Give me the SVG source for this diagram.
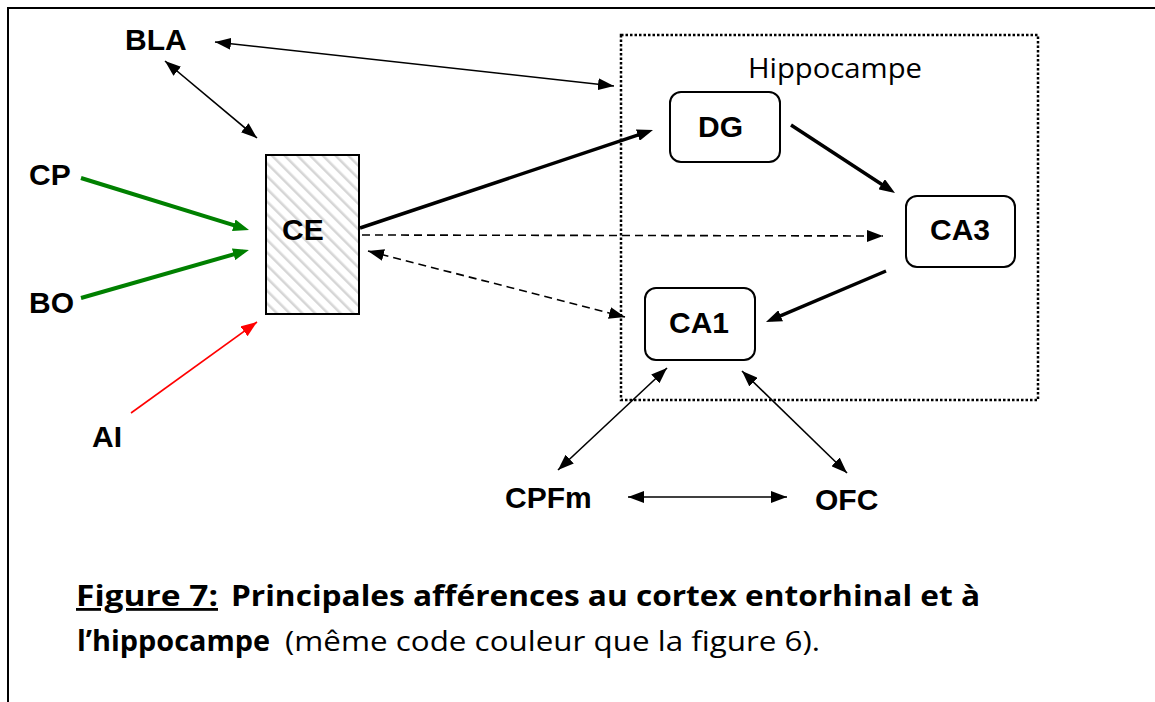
<svg xmlns="http://www.w3.org/2000/svg" width="1155" height="702" viewBox="0 0 1155 702">
<style>
.lbl{font-family:"Liberation Sans",Arial,sans-serif;font-weight:bold;font-size:30px;fill:#000}
.cap{font-family:"Open Sans","DejaVu Sans",sans-serif;font-size:28px;fill:#000}
.b{font-weight:bold}
.box{fill:#fff;stroke:#000;stroke-width:2}
.thin{stroke:#000;stroke-width:1.6;fill:none}
.thick{stroke:#000;stroke-width:3.5;fill:none}
.dash{stroke:#000;stroke-width:1.6;fill:none;stroke-dasharray:8 5}
.green{stroke:#008000;stroke-width:4;fill:none}
.red{stroke:#ff0000;stroke-width:1.6;fill:none}
</style>
<defs>
<pattern id="hatch" patternUnits="userSpaceOnUse" width="9" height="9" patternTransform="rotate(-45)">
<rect width="9" height="9" fill="#fff"/>
<line x1="0" y1="0" x2="0" y2="9" stroke="#d6d6d6" stroke-width="5"/>
</pattern>
<marker id="ak" markerUnits="userSpaceOnUse" markerWidth="16" markerHeight="12" refX="16" refY="6" orient="auto-start-reverse" viewBox="0 0 16 12"><path d="M0,0 L16,6 L0,12 z" fill="#000"/></marker>
<marker id="akt" markerUnits="userSpaceOnUse" markerWidth="16" markerHeight="12" refX="10" refY="6" orient="auto" viewBox="0 0 16 12"><path d="M0,0 L16,6 L0,12 z" fill="#000"/></marker>
<marker id="ag" markerUnits="userSpaceOnUse" markerWidth="16" markerHeight="12" refX="10" refY="6" orient="auto" viewBox="0 0 16 12"><path d="M0,0 L16,6 L0,12 z" fill="#008000"/></marker>
<marker id="ar" markerUnits="userSpaceOnUse" markerWidth="16" markerHeight="12" refX="16" refY="6" orient="auto" viewBox="0 0 16 12"><path d="M0,0 L16,6 L0,12 z" fill="#ff0000"/></marker>
</defs>
<rect width="1155" height="702" fill="#fff"/>
<!-- frame -->
<path d="M8,702 L8,8 L1155,8" fill="none" stroke="#000" stroke-width="2"/>

<g id="hippocampe">
<rect x="621" y="35" width="417" height="365" fill="none" stroke="#000" stroke-width="2.5" stroke-dasharray="2.5 2"/>
<text x="748" y="78" class="cap" textLength="174" lengthAdjust="spacingAndGlyphs">Hippocampe</text>
</g>

<g id="connectors">
<line class="thin" x1="215" y1="42" x2="614" y2="86" marker-start="url(#ak)" marker-end="url(#ak)"/>
<line class="thin" x1="165" y1="61" x2="257" y2="138" marker-start="url(#ak)" marker-end="url(#ak)"/>
<line class="green" x1="81" y1="178" x2="243.3" y2="228.2" marker-end="url(#ag)"/>
<line class="green" x1="81" y1="298" x2="243.2" y2="251.6" marker-end="url(#ag)"/>
<line class="red" x1="131" y1="413" x2="257" y2="322" marker-end="url(#ar)"/>
<line class="thick" x1="360" y1="228" x2="647.3" y2="131.9" marker-end="url(#akt)"/>
<line class="dash" x1="362" y1="235" x2="883" y2="236" marker-end="url(#ak)"/>
<line class="dash" x1="368" y1="251" x2="625" y2="317" marker-start="url(#ak)" marker-end="url(#ak)"/>
<line class="thick" x1="791" y1="125" x2="890" y2="189.7" marker-end="url(#akt)"/>
<line class="thick" x1="886" y1="271" x2="771.5" y2="319.7" marker-end="url(#akt)"/>
<line class="thin" x1="667" y1="368" x2="558" y2="470" marker-start="url(#ak)" marker-end="url(#ak)"/>
<line class="thin" x1="742" y1="371" x2="847" y2="473" marker-start="url(#ak)" marker-end="url(#ak)"/>
<line class="thin" x1="628" y1="497" x2="787" y2="497" marker-start="url(#ak)" marker-end="url(#ak)"/>
</g>

<g id="BLA"><text class="lbl" x="125" y="50">BLA</text></g>
<g id="CP"><text class="lbl" x="29" y="185">CP</text></g>
<g id="BO"><text class="lbl" x="29" y="313">BO</text></g>
<g id="AI"><text class="lbl" x="92" y="447">AI</text></g>
<g id="CE">
<rect x="266" y="155" width="93" height="159" fill="url(#hatch)" stroke="#000" stroke-width="2"/>
<text class="lbl" x="282" y="240">CE</text>
</g>
<g id="DG">
<rect class="box" x="670" y="92" width="110" height="70" rx="11"/>
<text class="lbl" x="698" y="137">DG</text>
</g>
<g id="CA3">
<rect class="box" x="906" y="196" width="109" height="71" rx="11"/>
<text class="lbl" x="930" y="240">CA3</text>
</g>
<g id="CA1">
<rect class="box" x="645" y="288" width="110" height="72" rx="11"/>
<text class="lbl" x="669" y="333">CA1</text>
</g>
<g id="CPFm"><text class="lbl" x="505" y="508">CPFm</text></g>
<g id="OFC"><text class="lbl" x="815" y="510">OFC</text></g>

<g id="caption">
<text class="cap b" x="76" y="606" textLength="142" lengthAdjust="spacingAndGlyphs" text-decoration="underline">Figure 7:</text>
<text class="cap b" x="231" y="606" textLength="749" lengthAdjust="spacingAndGlyphs">Principales afférences au cortex entorhinal et à</text>
<text class="cap b" x="77" y="651" textLength="193" lengthAdjust="spacingAndGlyphs">l’hippocampe</text>
<text class="cap" x="285" y="651" textLength="535" lengthAdjust="spacingAndGlyphs">(même code couleur que la figure 6).</text>
</g>
</svg>
